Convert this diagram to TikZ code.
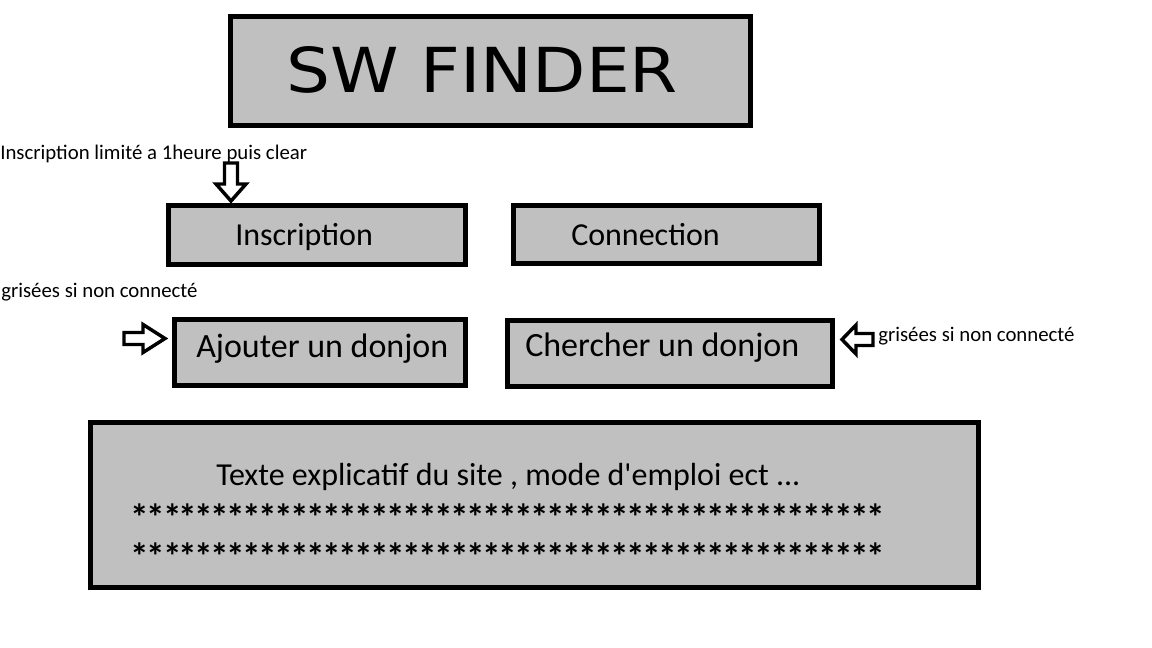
\documentclass[tikz,border=0pt]{standalone}
\usepackage{fontspec}
\setmainfont{Carlito}
\newfontfamily\plaincarlito{Carlito}
\newfontfamily\titlefont{DejaVu Sans}
\definecolor{boxgray}{HTML}{C0C0C0}
\newcommand{\onestar}{\makebox[12pt]{*}}
\newcommand{\tenstars}{\onestar\onestar\onestar\onestar\onestar\onestar\onestar\onestar\onestar\onestar}
\newcommand{\starrow}{\tenstars\tenstars\tenstars\tenstars\onestar\onestar\onestar\onestar\onestar\onestar\onestar}
\begin{document}
\begin{tikzpicture}[x=0.75pt,y=-0.75pt,
  box/.style={draw=black,line width=3.75pt,fill=boxgray,inner sep=0pt,outer sep=0pt},
  lbl/.style={inner sep=0pt,anchor=base west,font=\fontsize{24pt}{28pt}\selectfont},
  biglbl/.style={inner sep=0pt,anchor=base west,font=\fontsize{25.5pt}{30pt}\selectfont},
  starlbl/.style={inner sep=0pt,anchor=base west,font=\fontsize{28pt}{30pt}\selectfont\bfseries},
  note/.style={inner sep=0pt,anchor=base west,font=\fontsize{15.6pt}{18pt}\selectfont},
  blockarrow/.style={draw=black,line width=2.6pt,fill=white,line join=miter}]
\fill[white] (0,0) rectangle (1152,648);
\useasboundingbox (0,0) rectangle (1152,648);

% boxes
\node[box,minimum width=520*0.75pt,minimum height=109.5*0.75pt] (title) at (490.5,71.25) {};
\node[box,minimum width=297*0.75pt,minimum height=59*0.75pt] (insc) at (317,235) {};
\node[box,minimum width=306*0.75pt,minimum height=58*0.75pt] (conn) at (666.5,234.5) {};
\node[box,minimum width=291*0.75pt,minimum height=66*0.75pt] (ajout) at (320,352.5) {};
\node[box,minimum width=325*0.75pt,minimum height=66*0.75pt] (cherch) at (670,353.5) {};
\node[box,minimum width=888*0.75pt,minimum height=165*0.75pt] (texte) at (534.5,505) {};

% labels
\node[inner sep=0pt] (titletxt) at (482,70) {\titlefont\resizebox{294pt}{34.5pt}{SW FINDER}};
\node[lbl] (insctxt) at (235,246) {Inscription};
\node[lbl] (conntxt) at (571,246) {Connection};
\node[biglbl] (ajouttxt) at (196,358) {Ajouter un donjon};
\node[biglbl] (cherchtxt) at (525,357) {Chercher un donjon};
\node[lbl] (textetxt) at (216,485) {\plaincarlito Texte explicatif du site , mode d'emploi ect ...};
\node[starlbl] (stars1) at (132,530) {\starrow};
\node[starlbl] (stars2) at (132,569) {\starrow};

% notes
\node[note] (note1) at (0,160) {Inscription limité a 1heure puis clear};
\node[note] (note2) at (1,298) {grisées si non connecté};
\node[note] (note3) at (878,342) {grisées si non connecté};

% block arrows
\draw[blockarrow] (224.5,163) -- (237.5,163) -- (237.5,184) -- (246,184) -- (231,201) -- (216,184) -- (224.5,184) -- cycle;
\draw[blockarrow] (124,332.5) -- (143,332.5) -- (143,324.5) -- (165,338.5) -- (143,352.5) -- (143,344.5) -- (124,344.5) -- cycle;
\draw[blockarrow] (873,333.5) -- (856,333.5) -- (856,325) -- (842,339.5) -- (856,354) -- (856,345.5) -- (873,345.5) -- cycle;
\end{tikzpicture}
\end{document}
